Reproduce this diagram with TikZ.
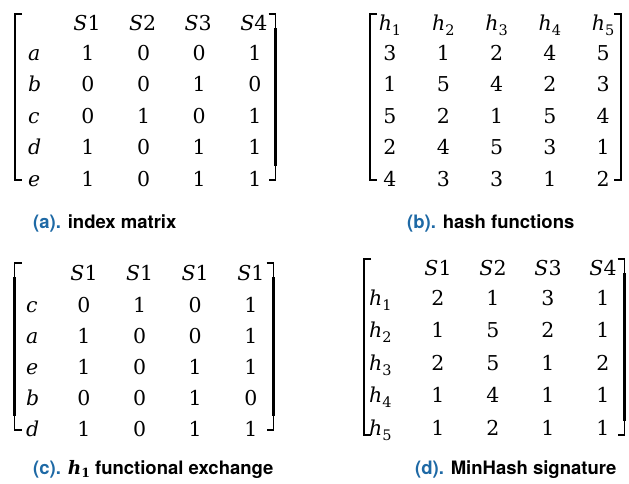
\RequirePackage{fix-cm}
\documentclass[tikz,border=0pt]{standalone}
\usepackage{fontspec}
\newfontfamily\capfont{TeX Gyre Heros}
\newfontfamily\cellfont{DejaVu Serif}
\definecolor{capblue}{RGB}{30,105,165}
\newcommand\hsub[1]{{\itshape h}\raisebox{-5pt}{\fontsize{14.5}{15}\selectfont #1}}
\tikzset{
  cell/.style={anchor=base, inner sep=0pt, font=\cellfont\fontsize{20.5}{24}\selectfont},
  rowlab/.style={anchor=base west, inner sep=0pt, font=\cellfont\itshape\fontsize{20.5}{24}\selectfont},
  captext/.style={anchor=base west, inner sep=0pt, font=\capfont\bfseries\fontsize{18.5}{22}\selectfont},
  brthin/.style={line width=1.1pt},
  brthick/.style={line width=2.8pt},
}
\newcommand\myBrL[3]{%
  \draw[brthin] (#1+7,#2) -- (#1,#2) -- (#1,#3) -- (#1+7,#3);
  \draw[brthick] (#1,#2+14) -- (#1,#3-14);}
\newcommand\myBrR[3]{%
  \draw[brthin] (#1-7,#2) -- (#1,#2) -- (#1,#3) -- (#1-7,#3);
  \draw[brthick] (#1,#2+14) -- (#1,#3-14);}
\begin{document}
\begin{tikzpicture}[x=1pt,y=-1pt]
\useasboundingbox (0,0) rectangle (629,483);
% ---------- (a) index matrix ----------
\myBrL{15}{14}{180}
\myBrR{275.5}{14}{180}
\foreach \c in {1,...,4}
  \node[cell] (a-h\c) at ({87+55.6*(\c-1)},30) {{\itshape S}\c};
\foreach \lab/\vals [count=\r] in {a/{1,0,0,1},b/{0,0,1,0},c/{0,1,0,1},d/{1,0,1,1},e/{1,0,1,1}}{
  \node[rowlab] (a-r\r) at (28,{60+31.5*(\r-1)}) {\lab};
  \foreach \v [count=\c] in \vals
    \node[cell] (a-\r-\c) at ({88+55.6*(\c-1)},{60+31.5*(\r-1)}) {\v};
}
\node[captext] (capa) at (33,228) {\textcolor{capblue}{(a).} index matrix};
% ---------- (b) hash functions ----------
\myBrL{370}{14}{180}
\myBrR{621}{14}{180}
\foreach \c in {1,...,5}
  \node[cell] (b-h\c) at ({390+53.3*(\c-1)},30) {\hsub{\c}};
\foreach \vals [count=\r] in {{3,1,2,4,5},{1,5,4,2,3},{5,2,1,5,4},{2,4,5,3,1},{4,3,3,1,2}}{
  \foreach \v [count=\c] in \vals
    \node[cell] (b-\r-\c) at ({390+53.3*(\c-1)},{60+31.5*(\r-1)}) {\v};
}
\node[captext] (capb) at (407,228) {\textcolor{capblue}{(b).} hash functions};
% ---------- (c) h1 functional exchange ----------
\myBrL{14.5}{263}{430}
\myBrR{273.5}{263}{430}
\foreach \c in {1,...,4}
  \node[cell] (c-h\c) at ({84+55.6*(\c-1)},280) {{\itshape S}1};
\foreach \lab/\vals [count=\r] in {c/{0,1,0,1},a/{1,0,0,1},e/{1,0,1,1},b/{0,0,1,0},d/{1,0,1,1}}{
  \node[rowlab] (c-r\r) at (26,{312+31.2*(\r-1)}) {\lab};
  \foreach \v [count=\c] in \vals
    \node[cell] (c-\r-\c) at ({84+55.6*(\c-1)},{312+31.2*(\r-1)}) {\v};
}
\node[captext] (capc) at (33,474) {\textcolor{capblue}{(c).} {\cellfont\bfseries\itshape h}\raisebox{-3.5pt}{\cellfont\bfseries\fontsize{12.5}{13}\selectfont 1} functional exchange};
% ---------- (d) MinHash signature ----------
\myBrL{364}{259}{435}
\myBrR{624.5}{259}{435}
\foreach \c in {1,...,4}
  \node[cell] (d-h\c) at ({438+55*(\c-1)},275) {{\itshape S}\c};
\foreach \vals [count=\r] in {{2,1,3,1},{1,5,2,1},{2,5,1,2},{1,4,1,1},{1,2,1,1}}{
  \node[cell, anchor=base west] (d-r\r) at (369,{305+32.5*(\r-1)}) {\hsub{\r}};
  \foreach \v [count=\c] in \vals
    \node[cell] (d-\r-\c) at ({438+55*(\c-1)},{305+32.5*(\r-1)}) {\v};
}
\node[captext] (capd) at (415,474) {\textcolor{capblue}{(d).} MinHash signature};
\end{tikzpicture}
\end{document}
